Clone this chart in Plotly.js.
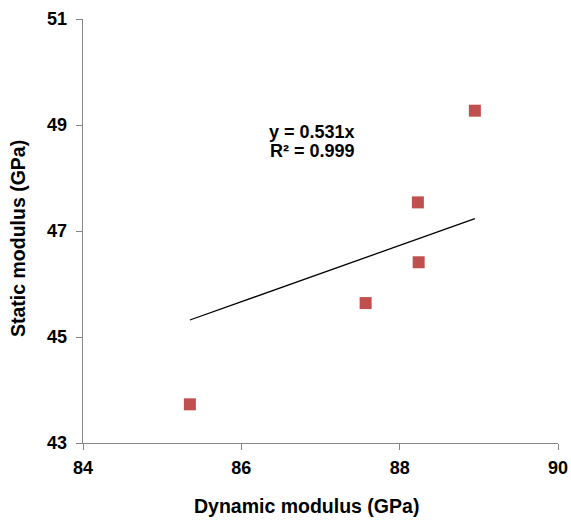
<!DOCTYPE html>
<html>
<head>
<meta charset="utf-8">
<script src="https://cdn.plot.ly/plotly-3.0.1.min.js"></script>
<style>html,body{margin:0;padding:0;background:#fff;}#chart{width:571px;height:521px;}</style>
</head>
<body>
<div id="chart"></div>
<script>
const dynamicModulus = [85.35, 87.57, 88.23, 88.24, 88.95];
const staticModulus = [43.73, 45.64, 47.54, 46.41, 49.27];
const slope = 0.531;
const xTicks = [84, 86, 88, 90];
const yTicks = [43, 45, 47, 49, 51];
const equationLines = ["y = 0.531x", "R² = 0.999"];
const xTitle = 'Dynamic modulus (GPa)';
const yTitle = 'Static modulus (GPa)';

const xMin = Math.min(...dynamicModulus), xMax = Math.max(...dynamicModulus);
const trendX = [xMin, xMax];
const trendY = trendX.map(v => slope * v);

const fam = "'Liberation Sans', Arial, sans-serif";
const font = {family: fam, size: 18, color: '#000', weight: 'bold'};
const titleFont = {family: fam, size: 19.5, color: '#000', weight: 'bold'};

const W = 571, H = 521, M = {l: 83, r: 13, t: 19, b: 78};
const pw = W - M.l - M.r, ph = H - M.t - M.b;
const px2paperX = p => (p - M.l) / pw;
const px2paperY = p => (H - p - M.b) / ph;

const data = [
  {x: trendX, y: trendY, mode: 'lines', type: 'scatter', line: {color: '#000', width: 1.3}, hoverinfo: 'skip'},
  {x: dynamicModulus, y: staticModulus, mode: 'markers', type: 'scatter',
   marker: {symbol: 'square', size: 12, color: '#C0504D', line: {width: 0}}}
];

const layout = {
  width: W, height: H,
  margin: M,
  paper_bgcolor: '#fff', plot_bgcolor: '#fff',
  showlegend: false,
  xaxis: {
    range: [84, 90], tickvals: xTicks, ticktext: xTicks.map(String),
    showgrid: false, zeroline: false, showline: true, linecolor: '#868686', linewidth: 1.3,
    ticks: 'outside', ticklen: 6, tickcolor: '#868686', tickwidth: 1,
    tickfont: font, automargin: false, ticklabelstandoff: 2
  },
  yaxis: {
    range: [43, 51], tickvals: yTicks, ticktext: yTicks.map(String),
    showgrid: false, zeroline: false, showline: true, linecolor: '#868686', linewidth: 1.3,
    ticks: 'outside', ticklen: 6, tickcolor: '#868686', tickwidth: 1,
    tickfont: font, automargin: false, ticklabelstandoff: 5
  },
  annotations: [
    {x: px2paperX(312), y: px2paperY(132), xref: 'paper', yref: 'paper', text: equationLines[0],
     showarrow: false, font: font, xanchor: 'center', yanchor: 'middle'},
    {x: px2paperX(312), y: px2paperY(151), xref: 'paper', yref: 'paper', text: equationLines[1],
     showarrow: false, font: font, xanchor: 'center', yanchor: 'middle'},
    {x: px2paperX(306), y: px2paperY(506), xref: 'paper', yref: 'paper', text: xTitle,
     showarrow: false, font: titleFont, xanchor: 'center', yanchor: 'middle'},
    {x: px2paperX(18), y: px2paperY(239), xref: 'paper', yref: 'paper', text: yTitle,
     showarrow: false, font: titleFont, textangle: -90, xanchor: 'center', yanchor: 'middle'}
  ]
};

Plotly.newPlot('chart', data, layout, {displayModeBar: false, staticPlot: true});
</script>
</body>
</html>
